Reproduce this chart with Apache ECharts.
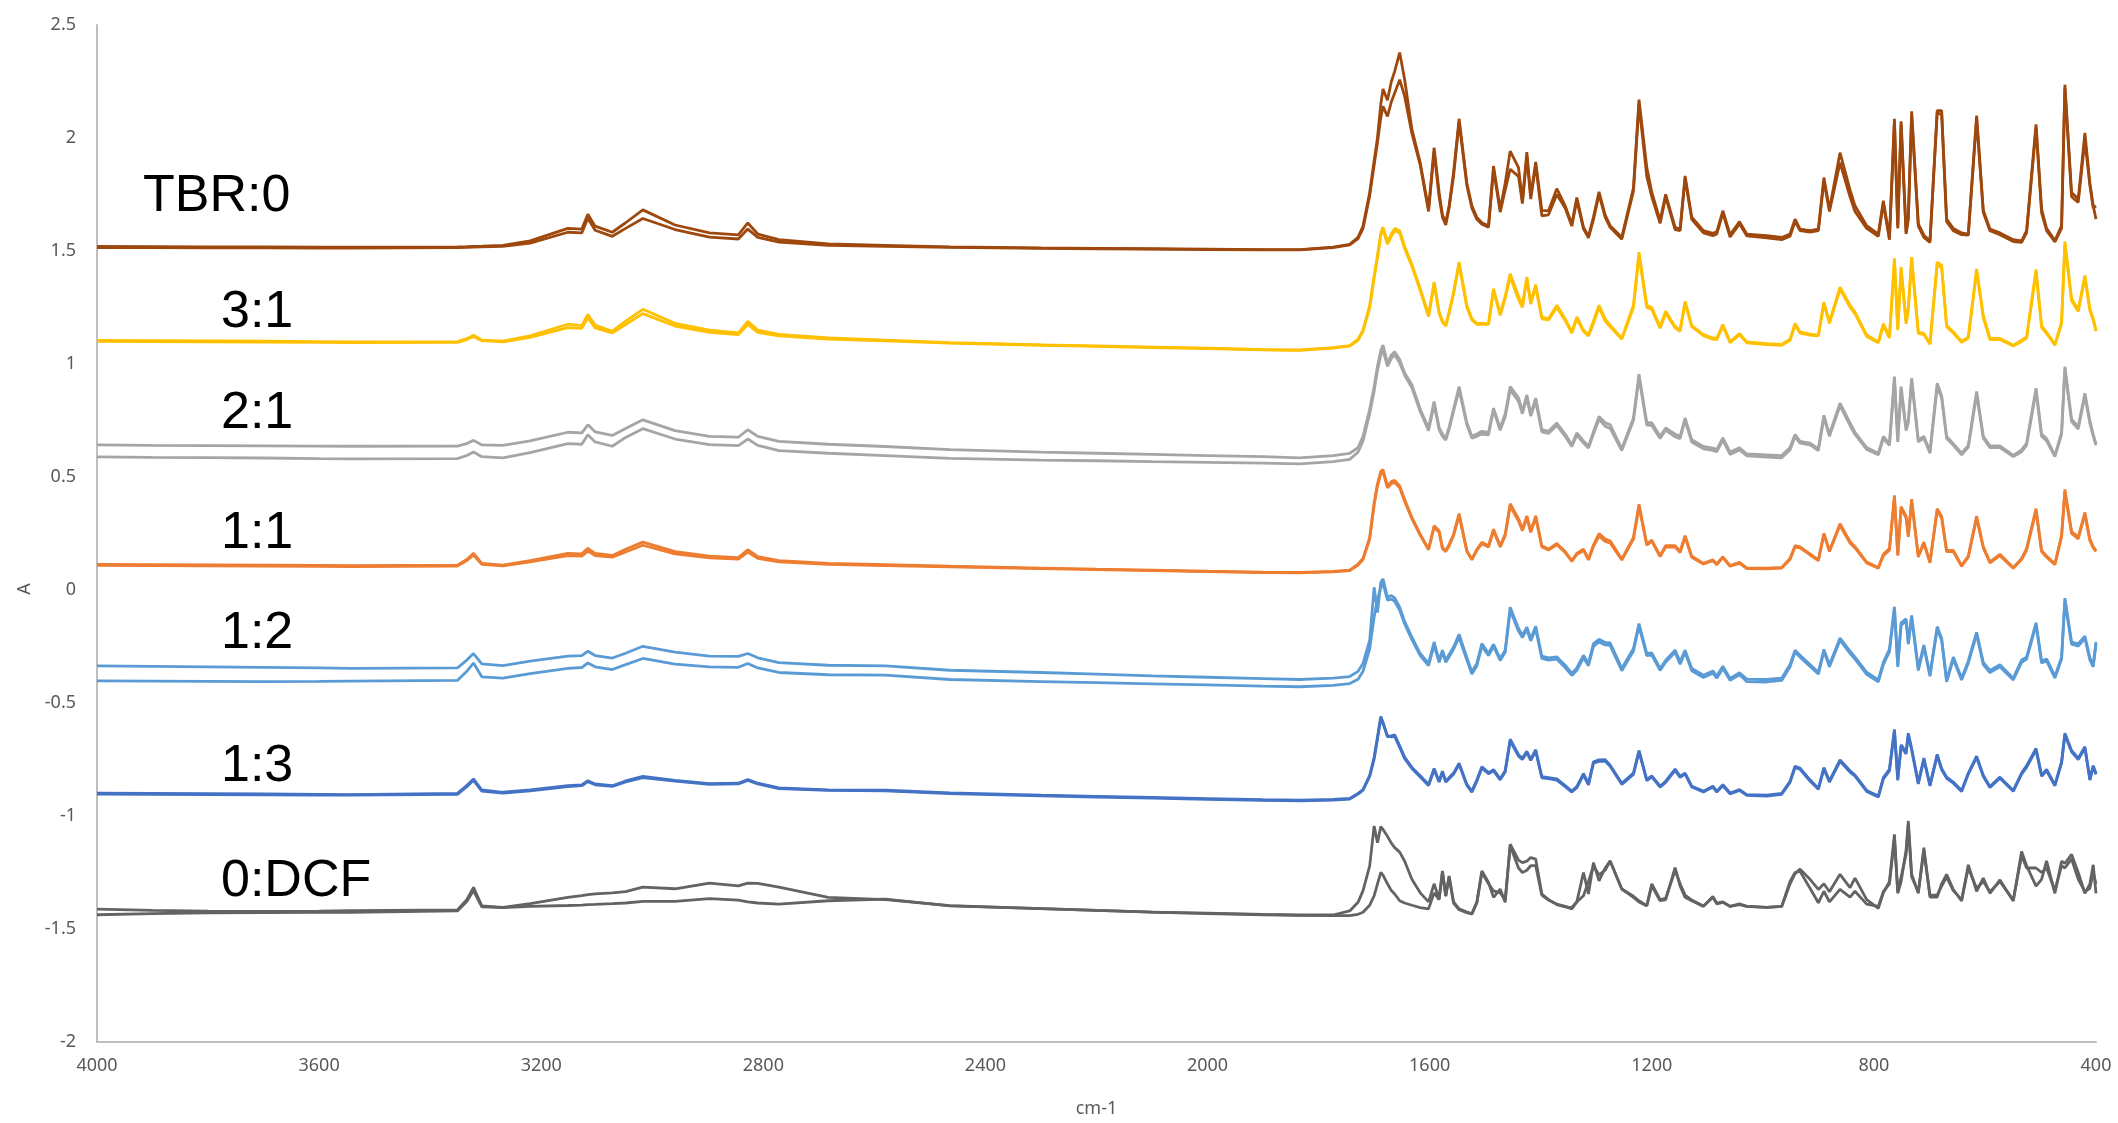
<!DOCTYPE html>
<html><head><meta charset="utf-8">
<script src="https://cdn.jsdelivr.net/npm/echarts@6/dist/echarts.min.js"></script>
<style>html,body{margin:0;padding:0;background:#fff}#c{width:2118px;height:1123px}</style>
</head><body><div id="c"></div>
<script>
// wavenumber grid (cm-1), shared by all spectra
const wavenumbers = [
 4000,3900,3800,3700,3600,3544,3351,3334,3322,3307,3269,3220,3152,3127,3116,3103,3072,3048,3017,2959,2897,2845,2828,2810,2772,2683,2580,2464,2300,2200,2100,2000,1900,
 1834,1774,1744,1729,1720,1708,1700,1694,1688,1684,1676,1669,1663,1654,1645,1632,1617,1602,1592,1583,1577,1571,1565,1557,1547,1533,1524,1515,1506,1494,1485,1473,1464,1455,1440,1433,1425,1418,1409,1398,1386,1371,1356,1344,1335,1323,1314,1305,1295,1284,1275,1254,1233,1223,1209,1200,1185,1175,1158,1149,1140,1128,1107,1090,1083,1072,1059,1042,1029,993,966,951,942,933,
 915,900,890,880,861,843,834,813,792,783,772,763,757,751,742,738,732,720,710,699,686,678,669,657,642,630,615,603,591,573,549,534,525,508,498,489,474,462,456,444,432,420,411,405,400
];

const tbr0A = [
 1.520,1.519,1.518,1.518,1.517,1.517,1.518,1.519,1.520,1.521,1.525,1.545,1.600,1.597,1.663,1.610,1.583,1.625,1.682,1.615,1.580,1.571,1.624,1.575,1.550,1.531,1.525,1.518,1.514,1.512,1.510,1.508,1.506,
 1.506,1.517,1.529,1.560,1.610,1.759,1.900,2.000,2.150,2.217,2.167,2.250,2.295,2.378,2.258,2.038,1.891,1.685,1.957,1.760,1.660,1.627,1.700,1.847,2.085,1.800,1.700,1.649,1.625,1.612,1.876,1.685,1.800,1.942,1.869,1.722,1.938,1.744,1.894,1.680,1.678,1.776,1.700,1.619,1.737,1.605,1.565,1.650,1.762,1.660,1.612,1.561,1.780,2.170,1.870,1.760,1.634,1.751,1.605,1.597,1.832,1.650,1.590,1.578,1.585,1.678,1.572,1.630,1.575,1.568,1.560,1.575,1.641,1.597,
 1.590,1.597,1.825,1.685,1.935,1.770,1.700,1.612,1.575,1.722,1.560,2.085,1.612,2.074,1.583,1.650,2.118,1.620,1.570,1.545,2.121,2.121,1.641,1.600,1.580,1.575,2.099,1.680,1.597,1.580,1.550,1.545,1.590,2.060,1.685,1.600,1.546,1.612,2.236,1.759,1.730,2.023,1.800,1.700,1.641
];
const tbr0B = [
 1.515,1.515,1.514,1.514,1.513,1.513,1.515,1.516,1.517,1.518,1.521,1.535,1.583,1.580,1.645,1.592,1.565,1.600,1.644,1.595,1.561,1.553,1.597,1.560,1.539,1.525,1.521,1.516,1.512,1.510,1.508,1.506,1.505,
 1.505,1.515,1.527,1.555,1.600,1.745,1.880,1.980,2.090,2.140,2.096,2.160,2.199,2.258,2.184,2.020,1.880,1.675,1.940,1.740,1.650,1.615,1.690,1.830,2.070,1.790,1.690,1.640,1.618,1.605,1.860,1.672,1.770,1.862,1.830,1.710,1.920,1.730,1.880,1.656,1.660,1.750,1.690,1.610,1.725,1.598,1.558,1.640,1.750,1.650,1.605,1.552,1.765,2.150,1.830,1.740,1.622,1.740,1.595,1.590,1.820,1.640,1.580,1.568,1.575,1.668,1.562,1.620,1.567,1.558,1.550,1.565,1.630,1.590,
 1.583,1.590,1.810,1.675,1.891,1.740,1.675,1.600,1.565,1.710,1.550,2.070,1.600,2.060,1.575,1.640,2.100,1.610,1.560,1.538,2.110,2.105,1.630,1.590,1.572,1.570,2.085,1.670,1.590,1.572,1.542,1.538,1.580,2.045,1.670,1.590,1.540,1.600,2.220,1.740,1.715,1.990,1.790,1.690,1.700
];
const r31A = [
 1.104,1.103,1.102,1.101,1.099,1.098,1.099,1.112,1.127,1.106,1.101,1.125,1.176,1.170,1.219,1.172,1.145,1.190,1.242,1.180,1.150,1.138,1.189,1.150,1.131,1.115,1.106,1.095,1.085,1.080,1.075,1.070,1.064,
 1.062,1.072,1.081,1.110,1.150,1.260,1.392,1.480,1.580,1.605,1.539,1.575,1.600,1.590,1.520,1.440,1.333,1.216,1.363,1.230,1.190,1.172,1.230,1.318,1.451,1.260,1.200,1.179,1.181,1.179,1.333,1.223,1.300,1.399,1.300,1.260,1.385,1.274,1.351,1.208,1.200,1.260,1.200,1.142,1.208,1.150,1.128,1.190,1.260,1.200,1.172,1.113,1.260,1.495,1.260,1.250,1.164,1.233,1.165,1.150,1.277,1.170,1.130,1.115,1.113,1.175,1.098,1.135,1.098,1.090,1.087,1.110,1.179,1.142,
 1.132,1.128,1.274,1.186,1.340,1.260,1.230,1.128,1.098,1.179,1.120,1.468,1.157,1.429,1.186,1.250,1.473,1.142,1.135,1.091,1.451,1.436,1.172,1.142,1.100,1.120,1.421,1.215,1.113,1.113,1.083,1.105,1.120,1.418,1.170,1.140,1.087,1.186,1.542,1.289,1.240,1.392,1.245,1.201,1.150
];
const r31B = [
 1.100,1.099,1.098,1.097,1.096,1.095,1.096,1.108,1.122,1.103,1.098,1.118,1.161,1.158,1.205,1.160,1.138,1.175,1.223,1.168,1.140,1.130,1.175,1.140,1.124,1.110,1.102,1.092,1.083,1.078,1.073,1.068,1.063,
 1.060,1.070,1.079,1.105,1.145,1.250,1.380,1.470,1.570,1.595,1.530,1.565,1.590,1.580,1.510,1.432,1.325,1.210,1.355,1.225,1.185,1.168,1.225,1.310,1.440,1.250,1.195,1.175,1.176,1.175,1.325,1.215,1.290,1.385,1.285,1.250,1.375,1.265,1.340,1.200,1.195,1.250,1.193,1.137,1.200,1.145,1.124,1.180,1.250,1.190,1.165,1.110,1.250,1.480,1.250,1.240,1.158,1.225,1.160,1.145,1.270,1.165,1.125,1.110,1.108,1.168,1.094,1.130,1.094,1.086,1.083,1.105,1.172,1.137,
 1.128,1.124,1.265,1.180,1.330,1.252,1.222,1.122,1.094,1.170,1.115,1.455,1.150,1.415,1.178,1.240,1.460,1.135,1.130,1.087,1.440,1.425,1.165,1.137,1.096,1.115,1.410,1.205,1.108,1.108,1.080,1.100,1.115,1.405,1.162,1.135,1.083,1.178,1.530,1.280,1.232,1.380,1.235,1.195,1.145
];
const r21A = [
 0.642,0.640,0.639,0.638,0.637,0.636,0.637,0.648,0.662,0.642,0.640,0.660,0.698,0.695,0.731,0.700,0.684,0.715,0.753,0.705,0.680,0.676,0.709,0.680,0.658,0.645,0.635,0.621,0.610,0.605,0.600,0.595,0.590,
 0.585,0.595,0.605,0.630,0.680,0.800,0.900,0.990,1.060,1.084,1.003,1.040,1.054,1.020,0.960,0.908,0.800,0.717,0.834,0.720,0.690,0.673,0.720,0.800,0.900,0.740,0.680,0.690,0.702,0.697,0.805,0.717,0.780,0.900,0.850,0.790,0.863,0.780,0.849,0.710,0.702,0.739,0.690,0.643,0.695,0.660,0.636,0.700,0.768,0.740,0.732,0.625,0.761,0.955,0.740,0.740,0.680,0.717,0.690,0.680,0.761,0.665,0.635,0.628,0.621,0.673,0.610,0.629,0.602,0.598,0.595,0.630,0.688,0.658,
 0.650,0.625,0.773,0.689,0.827,0.740,0.697,0.630,0.605,0.680,0.647,0.944,0.664,0.900,0.714,0.750,0.937,0.664,0.680,0.613,0.915,0.860,0.680,0.647,0.605,0.640,0.878,0.680,0.638,0.638,0.596,0.620,0.650,0.893,0.690,0.670,0.596,0.697,0.988,0.756,0.723,0.871,0.748,0.689,0.647
];
const r21B = [
 0.589,0.587,0.586,0.584,0.581,0.580,0.581,0.595,0.611,0.590,0.585,0.608,0.648,0.645,0.687,0.655,0.636,0.675,0.714,0.668,0.643,0.639,0.668,0.640,0.617,0.605,0.595,0.582,0.575,0.572,0.568,0.565,0.561,
 0.558,0.568,0.578,0.610,0.660,0.780,0.880,0.970,1.040,1.060,0.990,1.025,1.040,1.005,0.950,0.895,0.790,0.705,0.820,0.710,0.680,0.663,0.710,0.790,0.885,0.730,0.672,0.680,0.690,0.687,0.795,0.707,0.765,0.885,0.835,0.780,0.850,0.770,0.835,0.700,0.693,0.728,0.680,0.635,0.685,0.650,0.628,0.690,0.755,0.725,0.715,0.617,0.750,0.940,0.730,0.728,0.670,0.707,0.678,0.670,0.750,0.655,0.625,0.618,0.612,0.663,0.600,0.620,0.594,0.588,0.585,0.620,0.678,0.650,
 0.642,0.617,0.762,0.680,0.815,0.728,0.688,0.622,0.598,0.670,0.640,0.930,0.655,0.885,0.705,0.740,0.925,0.655,0.672,0.605,0.900,0.850,0.670,0.640,0.598,0.632,0.865,0.672,0.630,0.630,0.590,0.612,0.640,0.880,0.680,0.660,0.590,0.688,0.975,0.745,0.712,0.860,0.738,0.680,0.640
];
const r11A = [
 0.113,0.112,0.111,0.110,0.109,0.108,0.110,0.135,0.162,0.118,0.110,0.130,0.162,0.160,0.184,0.162,0.153,0.180,0.212,0.170,0.150,0.143,0.178,0.148,0.130,0.118,0.112,0.105,0.097,0.092,0.088,0.083,0.079,
 0.078,0.082,0.088,0.115,0.140,0.233,0.387,0.470,0.525,0.533,0.460,0.480,0.485,0.460,0.400,0.321,0.247,0.181,0.284,0.262,0.188,0.174,0.200,0.247,0.338,0.174,0.137,0.180,0.211,0.196,0.269,0.196,0.247,0.382,0.315,0.269,0.328,0.262,0.328,0.196,0.181,0.206,0.170,0.130,0.162,0.181,0.137,0.200,0.250,0.225,0.218,0.137,0.233,0.379,0.203,0.221,0.152,0.196,0.196,0.171,0.240,0.150,0.118,0.133,0.115,0.147,0.108,0.122,0.098,0.097,0.100,0.140,0.196,0.191,
 0.160,0.133,0.251,0.175,0.293,0.215,0.192,0.124,0.099,0.158,0.183,0.419,0.158,0.369,0.327,0.242,0.402,0.150,0.212,0.124,0.360,0.327,0.175,0.175,0.108,0.150,0.327,0.192,0.124,0.158,0.099,0.140,0.183,0.360,0.175,0.150,0.116,0.242,0.445,0.259,0.234,0.343,0.225,0.192,0.175
];
const r11B = [
 0.109,0.108,0.107,0.106,0.105,0.104,0.106,0.130,0.155,0.114,0.107,0.124,0.152,0.150,0.172,0.152,0.145,0.168,0.198,0.160,0.142,0.137,0.168,0.140,0.125,0.114,0.108,0.102,0.095,0.090,0.086,0.081,0.077,
 0.076,0.080,0.086,0.110,0.135,0.225,0.375,0.460,0.515,0.522,0.452,0.470,0.475,0.452,0.392,0.315,0.242,0.178,0.278,0.255,0.183,0.170,0.195,0.240,0.330,0.170,0.134,0.175,0.205,0.190,0.262,0.190,0.240,0.372,0.305,0.262,0.320,0.255,0.320,0.190,0.177,0.200,0.166,0.126,0.157,0.175,0.133,0.192,0.238,0.215,0.208,0.133,0.225,0.368,0.198,0.215,0.148,0.190,0.190,0.166,0.233,0.145,0.115,0.130,0.112,0.143,0.105,0.118,0.095,0.094,0.097,0.135,0.190,0.186,
 0.155,0.130,0.245,0.170,0.285,0.208,0.186,0.120,0.096,0.152,0.176,0.408,0.152,0.360,0.318,0.235,0.392,0.146,0.206,0.120,0.350,0.318,0.170,0.170,0.105,0.145,0.318,0.186,0.120,0.152,0.096,0.135,0.176,0.350,0.170,0.145,0.112,0.235,0.432,0.250,0.226,0.333,0.218,0.186,0.170
];
const r12A = [
 -0.336,-0.338,-0.340,-0.342,-0.345,-0.347,-0.345,-0.310,-0.281,-0.327,-0.335,-0.315,-0.293,-0.290,-0.271,-0.290,-0.301,-0.280,-0.249,-0.275,-0.293,-0.294,-0.281,-0.300,-0.321,-0.333,-0.336,-0.355,-0.365,-0.372,-0.380,-0.386,-0.392,
 -0.396,-0.390,-0.383,-0.360,-0.325,-0.222,0.012,-0.100,0.034,0.049,-0.032,-0.025,-0.035,-0.076,-0.140,-0.208,-0.281,-0.325,-0.230,-0.311,-0.266,-0.311,-0.285,-0.252,-0.196,-0.300,-0.362,-0.325,-0.237,-0.281,-0.240,-0.303,-0.266,-0.076,-0.170,-0.200,-0.164,-0.215,-0.161,-0.293,-0.300,-0.296,-0.333,-0.369,-0.345,-0.289,-0.325,-0.237,-0.218,-0.232,-0.234,-0.347,-0.259,-0.149,-0.281,-0.278,-0.347,-0.311,-0.266,-0.318,-0.266,-0.347,-0.377,-0.358,-0.381,-0.337,-0.391,-0.366,-0.394,-0.396,-0.390,-0.330,-0.266,-0.289,
 -0.330,-0.364,-0.263,-0.331,-0.213,-0.270,-0.297,-0.364,-0.398,-0.320,-0.263,-0.074,-0.331,-0.145,-0.128,-0.230,-0.112,-0.347,-0.243,-0.373,-0.162,-0.213,-0.398,-0.297,-0.390,-0.314,-0.187,-0.320,-0.356,-0.331,-0.390,-0.310,-0.297,-0.145,-0.314,-0.305,-0.381,-0.297,-0.036,-0.230,-0.238,-0.204,-0.300,-0.331,-0.230
];
const r12B = [
 -0.402,-0.403,-0.404,-0.405,-0.404,-0.403,-0.400,-0.360,-0.323,-0.384,-0.390,-0.370,-0.347,-0.343,-0.323,-0.340,-0.352,-0.330,-0.303,-0.328,-0.340,-0.342,-0.325,-0.345,-0.365,-0.375,-0.377,-0.396,-0.405,-0.410,-0.415,-0.420,-0.425,
 -0.428,-0.422,-0.414,-0.395,-0.360,-0.260,-0.120,-0.040,0.010,0.030,-0.045,-0.040,-0.050,-0.090,-0.150,-0.220,-0.290,-0.335,-0.245,-0.320,-0.276,-0.320,-0.295,-0.262,-0.210,-0.310,-0.372,-0.335,-0.250,-0.290,-0.250,-0.312,-0.276,-0.090,-0.182,-0.210,-0.175,-0.225,-0.172,-0.303,-0.310,-0.306,-0.343,-0.378,-0.355,-0.300,-0.335,-0.250,-0.230,-0.243,-0.245,-0.357,-0.270,-0.160,-0.290,-0.288,-0.356,-0.320,-0.276,-0.328,-0.276,-0.357,-0.387,-0.368,-0.390,-0.347,-0.400,-0.375,-0.405,-0.407,-0.400,-0.340,-0.275,-0.297,
 -0.338,-0.372,-0.272,-0.340,-0.222,-0.280,-0.306,-0.373,-0.406,-0.330,-0.273,-0.085,-0.340,-0.155,-0.138,-0.240,-0.122,-0.356,-0.253,-0.382,-0.172,-0.223,-0.406,-0.307,-0.398,-0.324,-0.197,-0.330,-0.365,-0.340,-0.398,-0.320,-0.306,-0.155,-0.323,-0.314,-0.390,-0.306,-0.050,-0.240,-0.248,-0.214,-0.310,-0.340,-0.240
];
const r13A = [
 -0.899,-0.900,-0.901,-0.902,-0.904,-0.905,-0.900,-0.865,-0.836,-0.885,-0.895,-0.885,-0.866,-0.862,-0.844,-0.858,-0.866,-0.845,-0.825,-0.842,-0.857,-0.855,-0.839,-0.855,-0.876,-0.884,-0.886,-0.898,-0.908,-0.913,-0.918,-0.923,-0.928,
 -0.930,-0.927,-0.922,-0.900,-0.883,-0.820,-0.740,-0.650,-0.560,-0.585,-0.650,-0.645,-0.641,-0.690,-0.740,-0.785,-0.822,-0.861,-0.790,-0.846,-0.802,-0.846,-0.830,-0.810,-0.766,-0.860,-0.890,-0.840,-0.782,-0.808,-0.795,-0.835,-0.800,-0.660,-0.729,-0.744,-0.714,-0.748,-0.707,-0.826,-0.830,-0.836,-0.865,-0.890,-0.870,-0.813,-0.857,-0.760,-0.752,-0.751,-0.775,-0.855,-0.810,-0.710,-0.839,-0.822,-0.868,-0.846,-0.792,-0.824,-0.810,-0.868,-0.890,-0.868,-0.890,-0.861,-0.898,-0.883,-0.905,-0.908,-0.900,-0.846,-0.780,-0.788,
 -0.840,-0.878,-0.786,-0.845,-0.752,-0.800,-0.819,-0.887,-0.912,-0.830,-0.794,-0.617,-0.836,-0.685,-0.718,-0.634,-0.701,-0.853,-0.744,-0.862,-0.727,-0.790,-0.828,-0.850,-0.887,-0.810,-0.735,-0.820,-0.870,-0.828,-0.887,-0.810,-0.777,-0.701,-0.819,-0.794,-0.862,-0.760,-0.634,-0.710,-0.744,-0.693,-0.836,-0.777,-0.811
];
const r13B = [
 -0.903,-0.904,-0.905,-0.906,-0.907,-0.908,-0.904,-0.870,-0.842,-0.890,-0.899,-0.889,-0.870,-0.866,-0.848,-0.862,-0.869,-0.849,-0.830,-0.846,-0.860,-0.858,-0.843,-0.858,-0.879,-0.887,-0.889,-0.901,-0.911,-0.916,-0.921,-0.926,-0.931,
 -0.933,-0.930,-0.925,-0.903,-0.886,-0.825,-0.748,-0.660,-0.568,-0.592,-0.645,-0.650,-0.648,-0.697,-0.746,-0.790,-0.827,-0.865,-0.795,-0.850,-0.808,-0.850,-0.835,-0.815,-0.772,-0.865,-0.894,-0.846,-0.788,-0.813,-0.800,-0.840,-0.805,-0.668,-0.735,-0.750,-0.720,-0.754,-0.714,-0.831,-0.835,-0.841,-0.870,-0.894,-0.875,-0.818,-0.862,-0.766,-0.758,-0.757,-0.780,-0.860,-0.816,-0.716,-0.844,-0.827,-0.872,-0.851,-0.798,-0.829,-0.815,-0.872,-0.894,-0.872,-0.894,-0.866,-0.902,-0.887,-0.909,-0.912,-0.904,-0.851,-0.786,-0.793,
 -0.845,-0.882,-0.792,-0.850,-0.758,-0.806,-0.824,-0.891,-0.916,-0.836,-0.800,-0.625,-0.842,-0.692,-0.725,-0.642,-0.708,-0.858,-0.750,-0.867,-0.733,-0.796,-0.833,-0.855,-0.892,-0.815,-0.741,-0.825,-0.874,-0.833,-0.891,-0.815,-0.785,-0.708,-0.824,-0.800,-0.866,-0.766,-0.642,-0.716,-0.750,-0.700,-0.841,-0.783,-0.816
];
const dcfA = [
 -1.412,-1.418,-1.421,-1.422,-1.421,-1.419,-1.416,-1.370,-1.316,-1.398,-1.404,-1.388,-1.360,-1.352,-1.348,-1.345,-1.340,-1.335,-1.315,-1.322,-1.297,-1.309,-1.297,-1.298,-1.315,-1.360,-1.370,-1.397,-1.410,-1.418,-1.425,-1.430,-1.435,
 -1.438,-1.438,-1.420,-1.382,-1.330,-1.221,-1.044,-1.118,-1.047,-1.060,-1.090,-1.120,-1.140,-1.160,-1.200,-1.280,-1.340,-1.380,-1.300,-1.367,-1.243,-1.353,-1.265,-1.380,-1.411,-1.425,-1.433,-1.380,-1.243,-1.294,-1.360,-1.323,-1.382,-1.125,-1.195,-1.206,-1.200,-1.184,-1.191,-1.345,-1.370,-1.390,-1.400,-1.411,-1.380,-1.250,-1.345,-1.206,-1.287,-1.230,-1.199,-1.323,-1.360,-1.380,-1.397,-1.309,-1.375,-1.370,-1.228,-1.309,-1.360,-1.375,-1.400,-1.356,-1.389,-1.382,-1.400,-1.389,-1.400,-1.404,-1.400,-1.300,-1.255,-1.235,
 -1.280,-1.325,-1.300,-1.335,-1.258,-1.317,-1.275,-1.370,-1.409,-1.340,-1.291,-1.081,-1.342,-1.290,-1.150,-1.022,-1.258,-1.342,-1.140,-1.359,-1.359,-1.300,-1.258,-1.325,-1.376,-1.216,-1.333,-1.275,-1.342,-1.283,-1.376,-1.157,-1.220,-1.310,-1.280,-1.199,-1.342,-1.200,-1.210,-1.170,-1.250,-1.342,-1.300,-1.216,-1.342
];
const dcfB = [
 -1.437,-1.432,-1.428,-1.427,-1.426,-1.426,-1.420,-1.378,-1.330,-1.402,-1.405,-1.400,-1.396,-1.394,-1.392,-1.391,-1.388,-1.385,-1.378,-1.378,-1.366,-1.372,-1.380,-1.385,-1.390,-1.375,-1.368,-1.398,-1.410,-1.418,-1.425,-1.432,-1.437,
 -1.440,-1.441,-1.441,-1.435,-1.426,-1.395,-1.353,-1.300,-1.250,-1.262,-1.300,-1.330,-1.345,-1.375,-1.385,-1.395,-1.405,-1.411,-1.340,-1.370,-1.250,-1.355,-1.270,-1.385,-1.415,-1.428,-1.433,-1.385,-1.250,-1.300,-1.331,-1.340,-1.370,-1.132,-1.230,-1.250,-1.240,-1.220,-1.220,-1.350,-1.372,-1.392,-1.402,-1.405,-1.380,-1.353,-1.290,-1.221,-1.260,-1.240,-1.199,-1.323,-1.355,-1.375,-1.397,-1.300,-1.370,-1.365,-1.240,-1.300,-1.350,-1.372,-1.398,-1.360,-1.385,-1.380,-1.400,-1.392,-1.400,-1.404,-1.400,-1.290,-1.250,-1.245,
 -1.320,-1.384,-1.333,-1.380,-1.325,-1.359,-1.333,-1.390,-1.400,-1.335,-1.300,-1.100,-1.335,-1.270,-1.170,-1.040,-1.270,-1.335,-1.155,-1.350,-1.350,-1.310,-1.270,-1.330,-1.370,-1.230,-1.320,-1.290,-1.335,-1.290,-1.372,-1.175,-1.230,-1.230,-1.250,-1.230,-1.330,-1.220,-1.230,-1.190,-1.280,-1.335,-1.320,-1.250,-1.300
];

const sampleLabels = ['TBR:0', '3:1', '2:1', '1:1', '1:2', '1:3', '0:DCF'];
const xAxisTitle = 'cm-1';
const yAxisTitle = 'A';

const seriesDefs = [
  { name: 'TBR:0 (1)', values: tbr0A, color: '#9E480E' },
  { name: 'TBR:0 (2)', values: tbr0B, color: '#9E480E' },
  { name: '3:1 (1)', values: r31A, color: '#FFC000' },
  { name: '3:1 (2)', values: r31B, color: '#FFC000' },
  { name: '2:1 (1)', values: r21A, color: '#A5A5A5' },
  { name: '2:1 (2)', values: r21B, color: '#A5A5A5' },
  { name: '1:1 (1)', values: r11A, color: '#ED7D31' },
  { name: '1:1 (2)', values: r11B, color: '#ED7D31' },
  { name: '1:2 (1)', values: r12A, color: '#5B9BD5' },
  { name: '1:2 (2)', values: r12B, color: '#5B9BD5' },
  { name: '1:3 (1)', values: r13A, color: '#4472C4' },
  { name: '1:3 (2)', values: r13B, color: '#4472C4' },
  { name: '0:DCF (1)', values: dcfA, color: '#636363' },
  { name: '0:DCF (2)', values: dcfB, color: '#636363' }
];

seriesDefs.forEach(s => { if (s.values.length !== wavenumbers.length) console.error(s.name, s.values.length, wavenumbers.length); });

// label placement (pixels) kept separate from data
const labelLayout = [
  { x: 143, y: 197 }, { x: 221, y: 313 }, { x: 221, y: 414 }, { x: 221, y: 534 },
  { x: 221, y: 634 }, { x: 221, y: 767 }, { x: 221, y: 882 }
];

const chart = echarts.init(document.getElementById('c'), null, { renderer: 'canvas' });
const tickFont = { color: '#595959', fontSize: 18, fontFamily: 'Noto Sans' };

chart.setOption({
  animation: false,
  backgroundColor: '#ffffff',
  grid: { left: 97, right: 22, top: 25, bottom: 76, containLabel: false },
  xAxis: {
    type: 'value', min: 400, max: 4000, interval: 400, inverse: true,
    axisLine: { show: true, onZero: false, lineStyle: { color: '#BFBFBF', width: 2 } },
    axisTick: { show: false }, splitLine: { show: false },
    axisLabel: Object.assign({ margin: 15, formatter: v => String(v) }, tickFont),
    name: xAxisTitle, nameLocation: 'middle', nameGap: 58,
    nameTextStyle: { color: '#595959', fontSize: 18, fontFamily: 'Noto Sans' }
  },
  yAxis: {
    type: 'value', min: -2, max: 2.5, interval: 0.5,
    axisLine: { show: true, onZero: false, lineStyle: { color: '#BFBFBF', width: 2 } },
    axisTick: { show: false }, splitLine: { show: false },
    axisLabel: Object.assign({ margin: 21 }, tickFont)
  },
  series: seriesDefs.map(s => ({
    name: s.name, type: 'line', showSymbol: false, symbol: 'none',
    data: wavenumbers.map((w, i) => [w, s.values[i]]),
    lineStyle: { color: s.color, width: 2.8 },
    itemStyle: { color: s.color },
    emphasis: { disabled: true }
  })),
  graphic: sampleLabels.map((t, i) => ({
    type: 'text', x: labelLayout[i].x, y: labelLayout[i].y, z: 100,
    style: { text: t, fontSize: 52, fontFamily: '"Liberation Sans", Arial, sans-serif', fill: '#000000', verticalAlign: 'middle', align: 'left' }
  })).concat([{
    type: 'text', x: 25, y: 589, rotation: Math.PI / 2, z: 100,
    style: { text: yAxisTitle, fontSize: 18, fontFamily: 'Noto Sans', fill: '#595959', align: 'center', verticalAlign: 'middle' }
  }])
});
</script></body></html>
